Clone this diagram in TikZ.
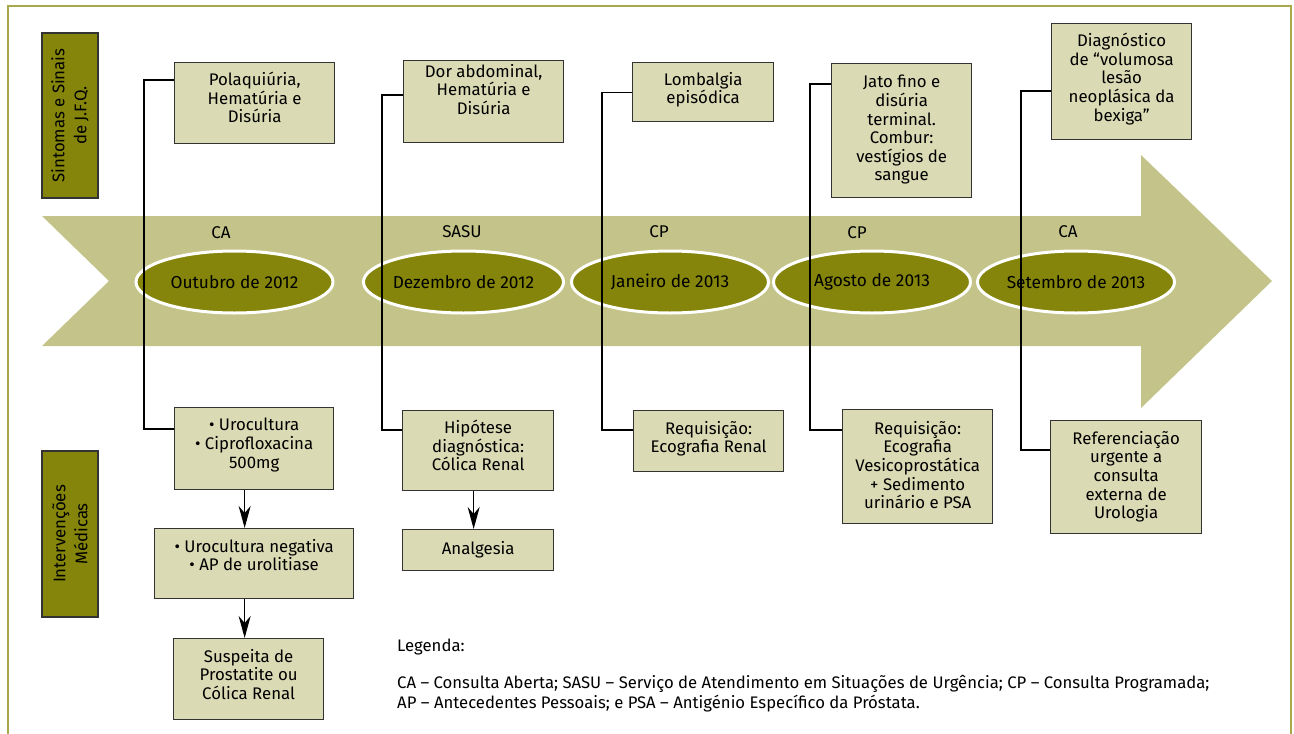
\documentclass[tikz,border=0pt]{standalone}
\usepackage{fontspec}
\setmainfont{Fira Sans}
\usetikzlibrary{arrows.meta,shapes.geometric}
\definecolor{boxfill}{HTML}{DADAB4}
\definecolor{bandcol}{HTML}{C4C48A}
\definecolor{olivecol}{HTML}{84850A}
\definecolor{framecol}{HTML}{A9A84A}
\definecolor{edgecol}{HTML}{333333}
\begin{document}
\begin{tikzpicture}[x=1pt,y=-1pt,
  box/.style={draw=edgecol, line width=1.3pt, fill=boxfill, anchor=north west, inner sep=0pt},
  btext/.style={anchor=north, align=center, inner sep=0pt, font=\fontsize{16.8}{18.6}\selectfont},
  sidelab/.style={draw=edgecol, line width=1.2pt, fill=olivecol},
  sidetext/.style={rotate=90, align=center, inner sep=0pt, font=\fontsize{16.8}{22}\selectfont},
  era/.style={ellipse, draw=white, line width=3pt, fill=olivecol, minimum width=197pt, minimum height=62pt, inner sep=0pt, font=\fontsize{17.3}{20}\selectfont},
  kind/.style={font=\fontsize{17}{20}\selectfont, inner sep=0pt},
  conn/.style={line width=1.2pt, black},
  arr/.style={conn, -{Stealth[length=22pt,width=12pt,inset=7pt]}},
  legtext/.style={font=\fontsize{16.7}{20}\selectfont, inner sep=0pt, align=left}
]
\useasboundingbox (0,0) rectangle (1294,734);
% frame
\draw[framecol, line width=2pt] (8,734) -- (8,6) -- (1291,6) -- (1291,734);
% big arrow band
\fill[bandcol] (42,216) -- (1141,216) -- (1141,155) -- (1272,281) -- (1141,408) -- (1141,346) -- (42,346) -- (109,281) -- cycle;
% side labels
\node[sidelab, minimum width=56pt, minimum height=165pt] (L1) at (70,115.5) {};
\node[sidetext] (L1t) at (L1.center) {Sintomas e Sinais\\de J.F.Q.};
\node[sidelab, minimum width=56pt, minimum height=166pt] (L2) at (70,534) {};
\node[sidetext] (L2t) at (L2.center) {Intervenções\\Médicas};
% ellipses
\node[era] (e1) at (234.5,282) {Outubro de 2012};
\node[era] (e2) at (463.5,282) {Dezembro de 2012};
\node[era] (e3) at (670,282) {Janeiro de 2013};
\node[era] (e4) at (872,282) {Agosto de 2013};
\node[era] (e5) at (1076,282) {Setembro de 2013};
% kinds
\node[kind] (k1) at (221,233) {CA};
\node[kind] (k2) at (462,232) {SASU};
\node[kind] (k3) at (659,232) {CP};
\node[kind] (k4) at (857,233) {CP};
\node[kind] (k5) at (1068,232) {CA};
% top boxes
\node[box, minimum width=160pt, minimum height=81pt] (s1) at (174,62) {};
\node[box, minimum width=160pt, minimum height=82pt] (s2) at (403,60) {};
\node[box, minimum width=141pt, minimum height=59pt] (s3) at (632,62) {};
\node[box, minimum width=140pt, minimum height=134pt] (s4) at (831,63) {};
\node[box, minimum width=140pt, minimum height=116pt] (s5) at (1051,23) {};
% bottom boxes
\node[box, minimum width=159pt, minimum height=82pt] (i1) at (174,407) {};
\node[box, minimum width=199pt, minimum height=70pt] (i2) at (154,528) {};
\node[box, minimum width=150pt, minimum height=81pt] (i3) at (173,638) {};
\node[box, minimum width=151pt, minimum height=80pt] (i4) at (402,410) {};
\node[box, minimum width=151pt, minimum height=41pt] (i5) at (402,529) {};
\node[box, minimum width=150pt, minimum height=61pt] (i6) at (633,410) {};
\node[box, minimum width=150pt, minimum height=114pt] (i7) at (842,409) {};
\node[box, minimum width=151pt, minimum height=113pt] (i8) at (1050,420) {};
% texts
\node[btext] (s1t) at ([yshift=-10pt]s1.north) {Polaquiúria,\\Hematúria e\\Disúria};
\node[btext] (s2t) at ([yshift=-4pt]s2.north) {Dor abdominal,\\Hematúria e\\Disúria};
\node[btext] (s3t) at ([yshift=-10pt]s3.north) {Lombalgia\\episódica};
\node[btext] (s4t) at ([yshift=-12pt]s4.north) {Jato fino e\\disúria\\terminal.\\Combur:\\vestígios de\\sangue};
\node[btext] (s5t) at ([yshift=-10pt]s5.north) {Diagnóstico\\de “volumosa\\lesão\\neoplásica da\\bexiga”};
\node[btext] (i1t) at ([yshift=-11pt]i1.north) {• Urocultura\\• Ciprofloxacina\\500mg};
\node[btext] (i2t) at ([yshift=-11pt]i2.north) {• Urocultura negativa\\• AP de urolitiase};
\node[btext] (i3t) at ([yshift=-11pt]i3.north) {Suspeita de\\Prostatite ou\\Cólica Renal};
\node[btext] (i4t) at ([yshift=-10pt]i4.north) {Hipótese\\diagnóstica:\\Cólica Renal};
\node[btext, anchor=center] (i5t) at (i5.center) {Analgesia};
\node[btext] (i6t) at ([yshift=-11pt]i6.north) {Requisição:\\Ecografia Renal};
\node[btext] (i7t) at ([yshift=-12pt]i7.north) {Requisição:\\Ecografia\\Vesicoprostática\\+ Sedimento\\urinário e PSA};
\node[btext] (i8t) at ([yshift=-11pt]i8.north) {Referenciação\\urgente a\\consulta\\externa de\\Urologia};
% connector rails
\coordinate (r1) at (144,0);
\coordinate (r2) at (382,0);
\coordinate (r3) at (602,0);
\coordinate (r4) at (810,0);
\coordinate (r5) at (1021,0);
\coordinate (a1) at ([yshift=-18pt]s1.north west);
\coordinate (b1) at ([yshift=-22pt]i1.north west);
\coordinate (a2) at ([yshift=-35pt]s2.north west);
\coordinate (b2) at ([yshift=-20pt]i4.north west);
\coordinate (a3) at (s3.west);
\coordinate (b3) at ([yshift=-20pt]i6.north west);
\coordinate (a4) at ([yshift=-21pt]s4.north west);
\coordinate (b4) at ([yshift=-21pt]i7.north west);
\coordinate (a5) at ([yshift=-68pt]s5.north west);
\coordinate (b5) at ([yshift=-30pt]i8.north west);
\draw[conn] (a1) -- (a1 -| r1) -- (b1 -| r1) -- (b1);
\draw[conn] (a2) -- (a2 -| r2) -- (b2 -| r2) -- (b2);
\draw[conn] (a3) -- (a3 -| r3) -- (b3 -| r3) -- (b3);
\draw[conn] (a4) -- (a4 -| r4) -- (b4 -| r4) -- (b4);
\draw[conn] (a5) -- (a5 -| r5) -- (b5 -| r5) -- (b5);
% arrows
\draw[arr] ([xshift=-9.5pt]i1.south) -- ([xshift=-9.5pt]i1.south |- i2.north);
\draw[arr] ([xshift=-9.5pt]i2.south) -- ([xshift=-9.5pt]i2.south |- i3.north);
\draw[arr] ([xshift=-4.5pt]i4.south) -- ([xshift=-4.5pt]i4.south |- i5.north);
% legend
\node[legtext, anchor=west] (leg1) at (397,647) {Legenda:};
\node[legtext, anchor=north west] (leg2) at (397,675) {CA – Consulta Aberta; SASU – Serviço de Atendimento em Situações de Urgência; CP – Consulta Programada;\\AP – Antecedentes Pessoais; e PSA – Antigénio Específico da Próstata.};
\end{tikzpicture}
\end{document}
